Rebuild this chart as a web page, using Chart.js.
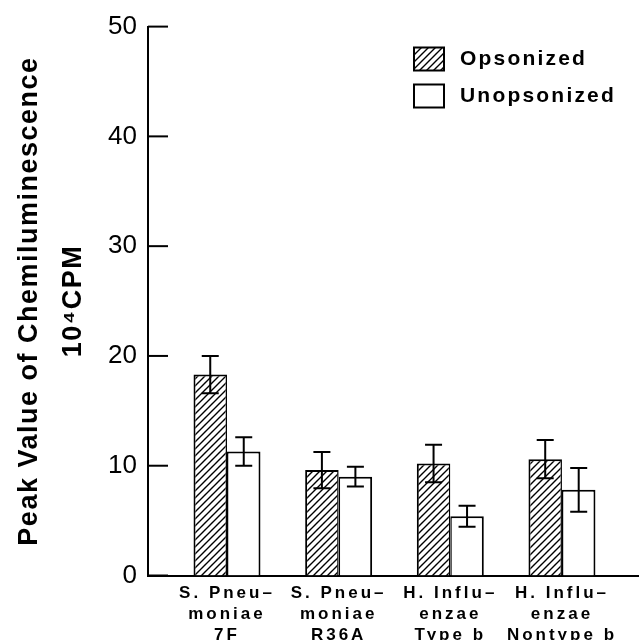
<!DOCTYPE html>
<html><head><meta charset="utf-8">
<script src="https://cdn.jsdelivr.net/npm/chart.js@4.4.1/dist/chart.umd.min.js"></script>
<style>html,body{margin:0;padding:0;background:#fff}#wrap{width:639px;height:640px}</style>
</head><body><div id="wrap"><canvas id="c"></canvas></div>
<script>
const categories = [["S. Pneu–","moniae","7F"],["S. Pneu–","moniae","R36A"],["H. Influ–","enzae","Type b"],["H. Influ–","enzae","Nontype b"]];
const seriesNames = ["Opsonized","Unopsonized"];
const opsonized = [18.3, 9.6, 10.2, 10.6];
const opsonizedErr = [1.7, 1.65, 1.7, 1.75];
const unopsonized = [11.3, 9.0, 5.4, 7.8];
const unopsonizedErr = [1.3, 0.9, 0.95, 2.0];
const yTicks = [0, 10, 20, 30, 40, 50];
const yTitle = ["Peak Value of Chemiluminescence", "10⁴CPM"];

const FONT = '"Liberation Sans", Arial, Helvetica, sans-serif';

function makeHatch() {
  const s = 7;
  const c = document.createElement('canvas');
  c.width = s; c.height = s;
  const g = c.getContext('2d');
  g.fillStyle = '#fff'; g.fillRect(0, 0, s, s);
  g.strokeStyle = '#000'; g.lineWidth = 1.4;
  g.beginPath();
  g.moveTo(-1, s + 1); g.lineTo(s + 1, -1);
  g.moveTo(-1, 1); g.lineTo(1, -1);
  g.moveTo(s - 1, s + 1); g.lineTo(s + 1, s - 1);
  g.stroke();
  return g.createPattern(c, 'repeat');
}
const hatch = makeHatch();

const errorBars = {
  id: 'errorBars',
  afterDatasetsDraw(chart) {
    const ctx = chart.ctx, y = chart.scales.y;
    chart.data.datasets.forEach((ds, di) => {
      const meta = chart.getDatasetMeta(di);
      meta.data.forEach((bar, i) => {
        const v = ds.data[i].y, e = ds.errors[i];
        const t = y.getPixelForValue(v + e), b = y.getPixelForValue(v - e);
        ctx.save();
        ctx.strokeStyle = '#000'; ctx.lineWidth = 2;
        ctx.beginPath();
        ctx.moveTo(bar.x, t); ctx.lineTo(bar.x, b);
        ctx.moveTo(bar.x - 8.5, t); ctx.lineTo(bar.x + 8.5, t);
        ctx.moveTo(bar.x - 8.5, b); ctx.lineTo(bar.x + 8.5, b);
        ctx.stroke();
        ctx.restore();
      });
    });
  }
};

const innerTicks = {
  id: 'innerTicks',
  afterDraw(chart) {
    const ctx = chart.ctx, y = chart.scales.y, a = chart.chartArea;
    ctx.save();
    ctx.strokeStyle = '#000'; ctx.lineWidth = 2;
    y.ticks.forEach(t => {
      const py = y.getPixelForValue(t.value);
      ctx.beginPath(); ctx.moveTo(a.left, py); ctx.lineTo(a.left + 20, py); ctx.stroke();
    });
    ctx.restore();
  }
};

const spacing = {
  id: 'spacing',
  beforeDraw(chart) {
    const x = chart.scales.x, y = chart.scales.y;
    if (!x._ls) {
      const o = x.drawLabels;
      x.drawLabels = function (a) { const c = this.ctx; c.save(); c.letterSpacing = '3px'; o.call(this, a); c.restore(); };
      x._ls = true;
    }
    if (!y._ls) {
      const o = y.drawTitle;
      y.drawTitle = function () { const c = this.ctx; c.save(); c.letterSpacing = '1.5px'; o.call(this); c.restore(); };
      y._ls = true;
    }
  }
};

const legendBox = {
  id: 'legendBox',
  afterDraw(chart) {
    const ctx = chart.ctx;
    const x0 = 414, y0 = 47.5, w = 30, h = 23, gap = 37;
    chart.data.datasets.forEach((ds, i) => {
      const yy = y0 + i * gap;
      ctx.save();
      ctx.fillStyle = ds.backgroundColor; ctx.fillRect(x0, yy, w, h);
      ctx.strokeStyle = '#000'; ctx.lineWidth = 2; ctx.strokeRect(x0, yy, w, h);
      ctx.fillStyle = '#000';
      ctx.font = 'bold 21px ' + FONT;
      ctx.letterSpacing = '2.2px';
      ctx.textBaseline = 'middle'; ctx.textAlign = 'left';
      ctx.fillText(ds.label, 460, yy + h / 2);
      ctx.restore();
    });
  }
};

new Chart(document.getElementById('c'), {
  type: 'bar',
  data: {
    datasets: [
      { label: seriesNames[0], data: opsonized.map((v, i) => ({ x: i + 1, y: v })), errors: opsonizedErr,
        backgroundColor: hatch, borderColor: '#000', borderWidth: { left: 2, top: 2, right: 1.5, bottom: 0 } },
      { label: seriesNames[1], data: unopsonized.map((v, i) => ({ x: i + 1, y: v })), errors: unopsonizedErr,
        backgroundColor: '#ffffff', borderColor: '#000', borderWidth: { left: 1.5, top: 2, right: 2, bottom: 0 } }
    ]
  },
  options: {
    responsive: true, maintainAspectRatio: false, animation: false,
    categoryPercentage: 0.6, barPercentage: 1.0,
    layout: { padding: { top: 22, left: 0, right: 0, bottom: 0 } },
    plugins: { legend: { display: false }, tooltip: { enabled: false } },
    scales: {
      x: {
        type: 'linear', min: 0.2925, max: 4.69, offset: false,
        afterBuildTicks: (s) => { s.ticks = categories.map((_, i) => ({ value: i + 1 })); },
        afterFit: (s) => { s.height = 64.5; },
        grid: { display: false, drawTicks: false, offset: false },
        border: { display: true, color: '#000', width: 2 },
        ticks: {
          autoSkip: false, maxRotation: 0, minRotation: 0, padding: 7, color: '#000',
          font: { family: FONT, size: 17, weight: 'bold', lineHeight: 1.235 },
          callback: (v) => categories[v - 1] || ''
        }
      },
      y: {
        min: 0, max: 50,
        afterBuildTicks: (s) => { s.ticks = yTicks.map(v => ({ value: v })); },
        afterFit: (s) => { s.width = 148; },
        grid: { display: false, drawTicks: false },
        border: { display: true, color: '#000', width: 2 },
        ticks: { padding: 11, color: '#000', font: { family: FONT, size: 26, weight: 'normal' } },
        title: {
          display: true, text: yTitle, color: '#000',
          padding: { top: 8, bottom: 0 },
          font: { family: FONT, size: 27, weight: 'bold', lineHeight: 1.62 }
        }
      }
    }
  },
  plugins: [errorBars, innerTicks, spacing, legendBox]
});
</script>
</body></html>
